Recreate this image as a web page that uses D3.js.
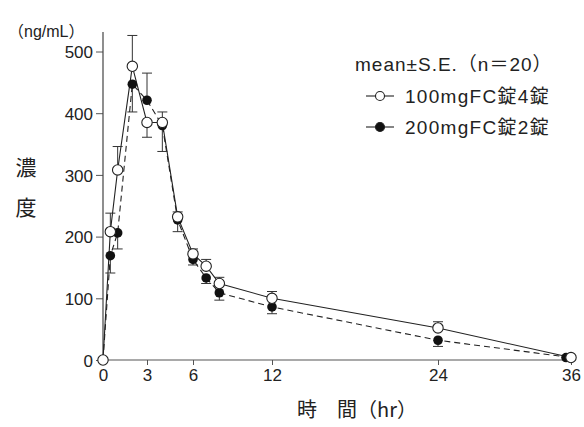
<!DOCTYPE html>
<html>
<head>
<meta charset="utf-8">
<script src="https://cdn.jsdelivr.net/npm/d3@7"></script>
<style>
  body { margin: 0; background: #fff; }
  svg text { font-family: "Liberation Sans", "Noto Sans CJK JP", sans-serif; fill: #222; }
  .jp { font-family: "Noto Sans CJK JP", sans-serif; }
</style>
</head>
<body>
<svg id="chart" width="584" height="427"></svg>
<script>
// sampling times (hr)
var times = [0, 0.5, 1, 2, 3, 4, 5, 6, 7, 8, 12, 24, 36];

// 100mg FC tablet x4 (open circles)
var tab100 = [0, 208, 308, 476, 385, 385, 232, 172, 152, 124, 100, 52, 4];
var tab100ErrUp = [0, 30, 38, 50, 0, 17, 8, 8, 11, 10, 11, 10, 0];
var tab100ErrDown = [0, 0, 0, 0, 24, 0, 0, 0, 0, 0, 0, 0, 0];

// 200mg FC tablet x2 (filled circles)
var tab200 = [0, 169, 206, 447, 421, 380, 227, 163, 133, 109, 86, 32, 4];
var tab200ErrUp = [0, 0, 0, 0, 44, 0, 0, 0, 0, 0, 0, 0, 0];
var tab200ErrDown = [0, 28, 26, 45, 0, 42, 19, 9, 9, 12, 11, 10, 0];

var xTicks = [0, 3, 6, 12, 24, 36];
var yTicks = [0, 100, 200, 300, 400, 500];

var svg = d3.select("#chart");

// x axis in the original is not quite linear, so map tick to tick
var xScale = d3.scaleLinear()
    .domain(xTicks)
    .range([103, 147, 193, 272, 438, 571]);

var yScale = d3.scaleLinear()
    .domain([0, 500])
    .range([360, 51.5]);

// axes
var yAxis = svg.append("g")
    .attr("transform", "translate(103,0)")
    .call(d3.axisLeft(yScale).tickValues(yTicks).tickSize(7).tickSizeOuter(0).tickPadding(3));
yAxis.select(".domain").remove();
yAxis.selectAll("line").attr("stroke", "#555");
yAxis.selectAll("text").style("font-size", "17px").attr("dy", "0.36em");

var xAxis = svg.append("g")
    .attr("transform", "translate(0,360)")
    .call(d3.axisBottom(xScale).tickValues(xTicks).tickSize(5).tickSizeOuter(0).tickPadding(4));
xAxis.select(".domain").remove();
xAxis.selectAll("line").attr("stroke", "#555");
xAxis.selectAll("text").style("font-size", "17px");

svg.append("line")
    .attr("x1", 103).attr("x2", 103)
    .attr("y1", 32).attr("y2", 360)
    .attr("stroke", "#444").attr("stroke-width", 1.2);
svg.append("line")
    .attr("x1", 103).attr("x2", 575)
    .attr("y1", 360).attr("y2", 360)
    .attr("stroke", "#555").attr("stroke-width", 1.2);

// build series
function rows(vals, up, down) {
    return times.map(function(t, i) {
        return { t: t, v: vals[i], up: up[i], down: down[i] };
    });
}
var open = rows(tab100, tab100ErrUp, tab100ErrDown);
var filled = rows(tab200, tab200ErrUp, tab200ErrDown);

var line = d3.line()
    .x(function(d) { return xScale(d.t); })
    .y(function(d) { return yScale(d.v); });

svg.append("path")
    .datum(filled)
    .attr("fill", "none")
    .attr("stroke", "#222")
    .attr("stroke-width", 1.1)
    .attr("stroke-dasharray", "6,4")
    .attr("d", line);

svg.append("path")
    .datum(open)
    .attr("fill", "none")
    .attr("stroke", "#222")
    .attr("stroke-width", 1.1)
    .attr("d", line);

// error bars
function errorBars(data) {
    var g = svg.append("g").attr("stroke", "#333").attr("stroke-width", 1);
    data.forEach(function(d) {
        var x = xScale(d.t);
        [[d.up, 1], [d.down, -1]].forEach(function(e) {
            if (!e[0]) return;
            var yEnd = yScale(d.v + e[1] * e[0]);
            g.append("line").attr("x1", x).attr("x2", x)
                .attr("y1", yScale(d.v)).attr("y2", yEnd);
            g.append("line").attr("x1", x - 5).attr("x2", x + 5)
                .attr("y1", yEnd).attr("y2", yEnd);
        });
    });
}
errorBars(filled);
errorBars(open);

// markers (filled dot at 36 hr sits a little left of the open one in the original)
svg.append("g").selectAll("circle")
    .data(filled)
    .enter().append("circle")
    .attr("cx", function(d) { return xScale(d.t) - (d.t === 36 ? 5 : 0); })
    .attr("cy", function(d) { return yScale(d.v); })
    .attr("r", 4.8)
    .attr("fill", "#111");

svg.append("g").selectAll("circle")
    .data(open)
    .enter().append("circle")
    .attr("cx", function(d) { return xScale(d.t); })
    .attr("cy", function(d) { return yScale(d.v); })
    .attr("r", 5.2)
    .attr("fill", "#fff")
    .attr("stroke", "#222")
    .attr("stroke-width", 1.1);

// axis titles
svg.append("text")
    .attr("x", 8).attr("y", 37)
    .style("font-size", "16px")
    .text("（ng/mL）");

svg.append("text")
    .attr("class", "jp")
    .attr("x", 26).attr("y", 175)
    .attr("text-anchor", "middle")
    .style("font-size", "21px")
    .text("濃");
svg.append("text")
    .attr("class", "jp")
    .attr("x", 26).attr("y", 215)
    .attr("text-anchor", "middle")
    .style("font-size", "21px")
    .text("度");

svg.append("text")
    .attr("class", "jp")
    .attr("x", 297).attr("y", 417)
    .style("font-size", "20px")
    .text("時　間（hr）");

// legend
svg.append("text")
    .attr("x", 355).attr("y", 71)
    .style("font-size", "19px")
    .style("letter-spacing", "1px")
    .text("mean±S.E.（n＝20）");

var legendItems = [
    { label: "100mgFC錠4錠", fill: "#fff", y: 96 },
    { label: "200mgFC錠2錠", fill: "#111", y: 127 }
];
legendItems.forEach(function(item) {
    svg.append("line")
        .attr("x1", 366).attr("x2", 394)
        .attr("y1", item.y).attr("y2", item.y)
        .attr("stroke", "#222").attr("stroke-width", 1.1);
    svg.append("circle")
        .attr("cx", 380).attr("cy", item.y)
        .attr("r", 4.5)
        .attr("fill", item.fill)
        .attr("stroke", "#222").attr("stroke-width", 1.1);
    svg.append("text")
        .attr("x", 405).attr("y", item.y + 7)
        .style("font-size", "19px")
        .style("letter-spacing", "1.3px")
        .text(item.label);
});
</script>
</body>
</html>
